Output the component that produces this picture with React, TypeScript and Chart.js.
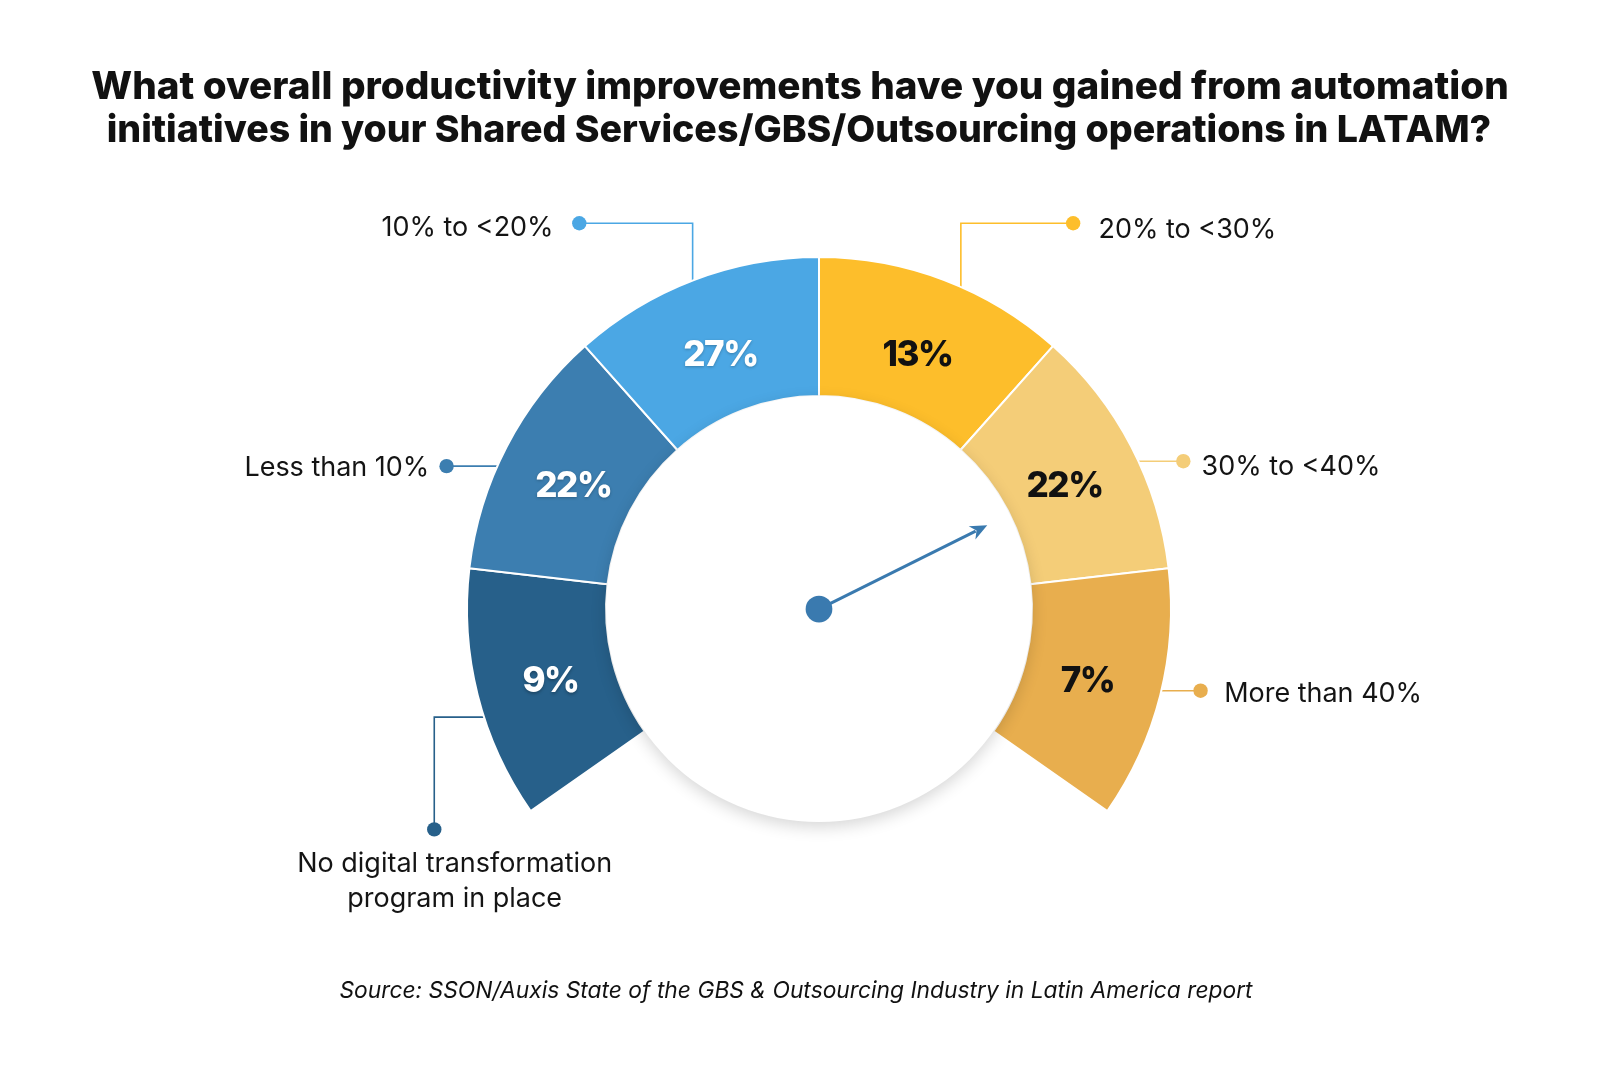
import React, { useEffect, useRef } from "react";
import { Chart, registerables } from "chart.js";

Chart.register(...registerables);

// ---- data ----
const categories = [
  "No digital transformation program in place",
  "Less than 10%",
  "10% to <20%",
  "20% to <30%",
  "30% to <40%",
  "More than 40%",
];
const shares = [9, 22, 27, 13, 22, 7];
const bandWeights = [1, 1, 1, 1, 1, 1];
const categoryLines = [
  ["No digital transformation", "program in place"],
  ["Less than 10%"],
  ["10% to <20%"],
  ["20% to <30%"],
  ["30% to <40%"],
  ["More than 40%"],
];
const titleLines = [
  "What overall productivity improvements have you gained from automation",
  "initiatives in your Shared Services/GBS/Outsourcing operations in LATAM?",
];
const sourceText =
  "Source: SSON/Auxis State of the GBS & Outsourcing Industry in Latin America report";

// ---- styles ----
const colors = ["#27608A", "#3C7EB0", "#4BA7E4", "#FDBE2B", "#F4CD78", "#E8AE4E"];
const valueColors = ["#ffffff", "#ffffff", "#ffffff", "#111111", "#111111", "#111111"];
const FONT = "Inter, 'Open Sans', sans-serif";

// callout layout, in fractions of outer radius relative to gauge centre
const callouts = [
  { path: [[-1.093, 0.626], [-1.093, 0.307], [-0.8, 0.307]], tx: -1.035, ty: [0.724, 0.824], align: "center" },
  { path: [[-1.058, -0.406], [-0.8, -0.406]], tx: -1.107, ty: [-0.400], align: "right" },
  { path: [[-0.681, -1.096], [-0.359, -1.096], [-0.359, -0.8]], tx: -0.754, ty: [-1.084], align: "right" },
  { path: [[0.722, -1.096], [0.403, -1.096], [0.403, -0.8]], tx: 0.794, ty: [-1.076], align: "left" },
  { path: [[1.035, -0.42], [0.8, -0.42]], tx: 1.087, ty: [-0.404], align: "left" },
  { path: [[1.084, 0.232], [0.85, 0.232]], tx: 1.151, ty: [0.24], align: "left" },
];

function fitSize(ctx: CanvasRenderingContext2D, text: string, prefix: string, family: string, target: number) {
  ctx.font = `${prefix} 100px ${family}`;
  const w = ctx.measureText(text).width;
  return (100 * target) / w;
}

const decorPlugin = {
  id: "decor",
  beforeDatasetsDraw(chart: any) {
    const ctx: CanvasRenderingContext2D = chart.ctx;
    const arc = chart.getDatasetMeta(0).data[0];
    if (!arc) return;
    const cx = arc.x, cy = arc.y, R = arc.outerRadius;
    callouts.forEach((c, i) => {
      ctx.save();
      ctx.strokeStyle = colors[i];
      ctx.lineWidth = 1.6;
      ctx.beginPath();
      c.path.forEach((p, k) => {
        const x = cx + p[0] * R, y = cy + p[1] * R;
        if (k === 0) ctx.moveTo(x, y);
        else ctx.lineTo(x, y);
      });
      ctx.stroke();
      ctx.fillStyle = colors[i];
      ctx.beginPath();
      ctx.arc(cx + c.path[0][0] * R, cy + c.path[0][1] * R, 7.2, 0, Math.PI * 2);
      ctx.fill();
      ctx.restore();
    });
  },
  afterDatasetsDraw(chart: any) {
    const ctx: CanvasRenderingContext2D = chart.ctx;
    const meta = chart.getDatasetMeta(0);
    const arc = meta.data[0];
    if (!arc) return;
    const cx = arc.x, cy = arc.y, R = arc.outerRadius, r = arc.innerRadius;

    // white inner disc with soft shadow
    ctx.save();
    ctx.shadowColor = "rgba(0,0,0,0.16)";
    ctx.shadowBlur = 16;
    ctx.shadowOffsetY = 5;
    ctx.fillStyle = "#ffffff";
    ctx.beginPath();
    ctx.arc(cx, cy, r, 0, Math.PI * 2);
    ctx.fill();
    ctx.restore();

    // value labels
    meta.data.forEach((el: any, i: number) => {
      const mid = (el.startAngle + el.endAngle) / 2;
      const rr = r + (R - r) * 0.46;
      ctx.save();
      ctx.font = `800 35px ${FONT}`;
      (ctx as any).letterSpacing = "-1.5px";
      ctx.fillStyle = valueColors[i];
      ctx.textAlign = "center";
      ctx.textBaseline = "middle";
      if (i < 3) {
        ctx.shadowColor = "rgba(0,0,0,0.25)";
        ctx.shadowBlur = 3;
        ctx.shadowOffsetY = 1.5;
      }
      ctx.fillText(`${shares[i]}%`, cx + Math.cos(mid) * rr, cy + Math.sin(mid) * rr + 5);
      ctx.restore();
    });

    // needle
    const tipX = cx + 0.478 * R, tipY = cy - 0.238 * R;
    const ang = Math.atan2(tipY - cy, tipX - cx);
    const headLen = 17, headW = 7.5;
    const baseX = tipX - Math.cos(ang) * headLen, baseY = tipY - Math.sin(ang) * headLen;
    ctx.save();
    ctx.strokeStyle = "#3A7AAF";
    ctx.fillStyle = "#3A7AAF";
    ctx.lineWidth = 3;
    ctx.beginPath();
    ctx.moveTo(cx, cy);
    ctx.lineTo(baseX + Math.cos(ang) * 4, baseY + Math.sin(ang) * 4);
    ctx.stroke();
    ctx.beginPath();
    ctx.moveTo(tipX, tipY);
    ctx.lineTo(baseX - Math.sin(ang) * headW, baseY + Math.cos(ang) * headW);
    ctx.lineTo(baseX + Math.cos(ang) * 5, baseY + Math.sin(ang) * 5);
    ctx.lineTo(baseX + Math.sin(ang) * headW, baseY - Math.cos(ang) * headW);
    ctx.closePath();
    ctx.fill();
    ctx.beginPath();
    ctx.arc(cx, cy, 0.038 * R, 0, Math.PI * 2);
    ctx.fill();
    ctx.restore();

    // callout texts
    const calSize = fitSize(ctx, "Less than 10%", "400", FONT, 185);
    callouts.forEach((c, i) => {
      ctx.save();
      ctx.font = `400 ${calSize}px ${FONT}`;
      ctx.fillStyle = "#141414";
      ctx.textBaseline = "middle";
      ctx.textAlign = c.align as CanvasTextAlign;
      categoryLines[i].forEach((line, k) => {
        ctx.fillText(line, cx + c.tx * R, cy + c.ty[k] * R);
      });
      ctx.restore();
    });

    // title
    const W = chart.width;
    const s1 = fitSize(ctx, titleLines[0], "800", FONT, 1418);
    const s2 = fitSize(ctx, titleLines[1], "800", FONT, 1385);
    ctx.save();
    ctx.fillStyle = "#111111";
    ctx.textAlign = "center";
    ctx.textBaseline = "middle";
    ctx.font = `800 ${s1}px ${FONT}`;
    ctx.fillText(titleLines[0], W / 2, 87);
    ctx.font = `800 ${s2}px ${FONT}`;
    ctx.fillText(titleLines[1], W / 2 - 1, 131);
    ctx.restore();

    // source
    const sSize = fitSize(ctx, sourceText, "italic 400", FONT, 914);
    ctx.save();
    ctx.font = `italic 400 ${sSize}px ${FONT}`;
    ctx.fillStyle = "#111111";
    ctx.textAlign = "center";
    ctx.textBaseline = "middle";
    ctx.fillText(sourceText, 796, 991);
    ctx.restore();
  },
};

export default function App() {
  const ref = useRef<HTMLCanvasElement | null>(null);
  useEffect(() => {
    if (!ref.current) return;
    const chart = new Chart(ref.current, {
      type: "doughnut",
      data: {
        labels: categories,
        datasets: [
          {
            data: bandWeights,
            backgroundColor: colors,
            borderColor: "#ffffff",
            borderWidth: 2,
            hoverOffset: 0,
          },
        ],
      },
      options: {
        responsive: false,
        animation: false,
        rotation: -125,
        circumference: 250,
        radius: 352,
        cutout: "60.5%",
        layout: { padding: { left: 38, bottom: 16, top: 0, right: 0 } },
        plugins: {
          legend: { display: false },
          tooltip: { enabled: false },
          title: { display: false },
        },
        events: [],
      },
      plugins: [decorPlugin],
    });
    return () => chart.destroy();
  }, []);
  return (
    <div style={{ position: "absolute", left: 0, top: 0, width: 1600, height: 1084, background: "#fff" }}>
      <canvas ref={ref} width={1600} height={1084} />
    </div>
  );
}
